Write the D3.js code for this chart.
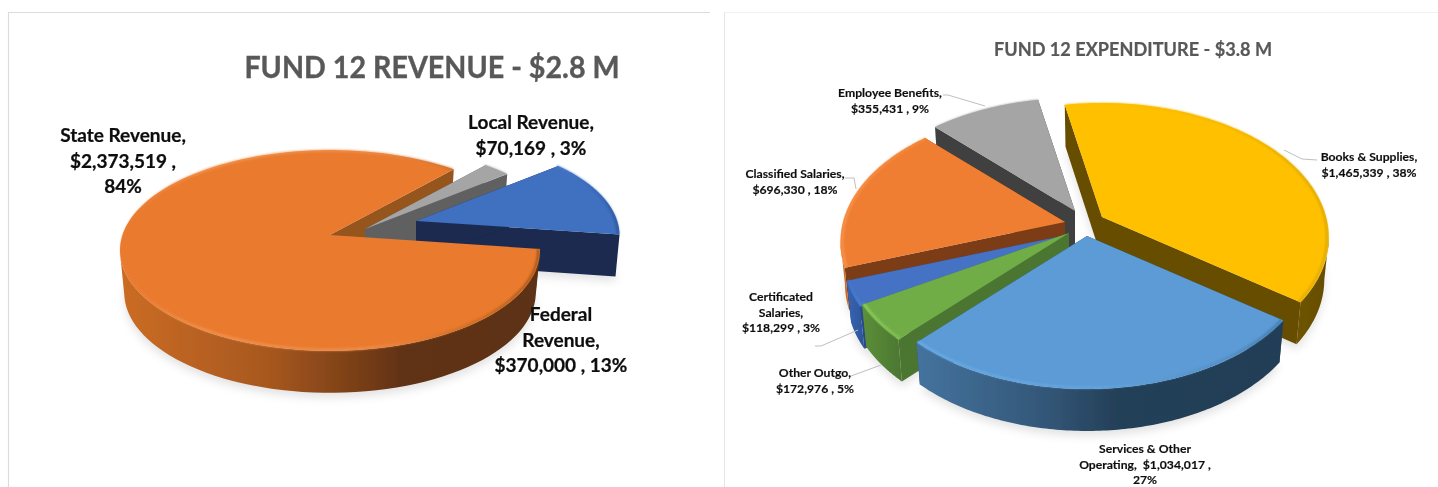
<!DOCTYPE html>
<html>
<head>
<meta charset="utf-8">
<script src="https://cdn.jsdelivr.net/npm/d3@7"></script>
<style>
  html, body { margin: 0; padding: 0; background: #fff; overflow: hidden; }
  text { font-family: Lato, "Open Sans", sans-serif; font-weight: 700; }
</style>
</head>
<body>
<div id="canvas"></div>
<script>
// fund 12 revenue
const revenueNames = ["State Revenue", "Local Revenue", "Federal Revenue"];
const revenueValues = [2373519, 70169, 370000];
const revenueLabels = [
  ["State Revenue,", "$2,373,519 ,", "84%"],
  ["Local Revenue,", "$70,169 , 3%"],
  ["Federal", "Revenue,", "$370,000 , 13%"]
];

// fund 12 expenditure
const expenseNames = ["Books & Supplies", "Services & Other Operating", "Other Outgo",
  "Certificated Salaries", "Classified Salaries", "Employee Benefits"];
const expenseValues = [1465339, 1034017, 172976, 118299, 696330, 355431];
const expenseLabels = [
  ["Books & Supplies,", "$1,465,339 , 38%"],
  ["Services & Other", "Operating,  $1,034,017 ,", "27%"],
  ["Other Outgo,", "$172,976 , 5%"],
  ["Certificated", "Salaries,", "$118,299 , 3%"],
  ["Classified Salaries,", "$696,330 , 18%"],
  ["Employee Benefits,", "$355,431 , 9%"]
];

const width = 1438, height = 487;
const rad = d => d * Math.PI / 180;

const svg = d3.select("#canvas").append("svg")
  .attr("width", width).attr("height", height)
  .style("display", "block");
const defs = svg.append("defs");

defs.append("filter").attr("id", "soft").attr("x", "-5%").attr("y", "-5%").attr("width", "110%").attr("height", "110%")
  .append("feGaussianBlur").attr("stdDeviation", 0.45);
defs.append("filter").attr("id", "rimBlur").attr("x", "-10%").attr("y", "-10%").attr("width", "120%").attr("height", "120%")
  .append("feGaussianBlur").attr("stdDeviation", 1);
defs.append("filter").attr("id", "shadowBlur").attr("x", "-10%").attr("y", "-10%").attr("width", "120%").attr("height", "120%")
  .append("feGaussianBlur").attr("stdDeviation", 4);
defs.append("filter").attr("id", "textSoft")
  .append("feGaussianBlur").attr("stdDeviation", 0.3);

let gradId = 0;
function gradient(stops) {
  const id = "grad" + (gradId++);
  const g = defs.append("linearGradient").attr("id", id);
  stops.forEach(s => g.append("stop").attr("offset", s[0]).attr("stop-color", s[1]));
  return `url(#${id})`;
}

// frames round the two pasted charts
svg.append("path").attr("d", "M8.5,487V12.5H710").attr("fill", "none").attr("stroke", "#dcdcdc").attr("stroke-width", 1.2);
svg.append("path").attr("d", "M724.5,487V12.5H1438").attr("fill", "none").attr("stroke", "#f1f1f1").attr("stroke-width", 1);
svg.append("line").attr("x1", 724.5).attr("x2", 724.5).attr("y1", 12).attr("y2", 487).attr("stroke", "#e6e6e6");

// a tilted pie: circle coordinates go through a projective map so the apex sits above the ellipse middle
function makeProjector(p) {
  return (slice, th, r, low) => {
    const u = r * Math.sin(th) * slice.scale, v = -r * Math.cos(th) * slice.scale;
    const den = 1 - p.persp * v;
    const k = low ? p.lowScale : 1;
    return [
      p.cx + slice.dx + k * p.rx * u / den,
      p.cy + slice.dy + p.ry * v / den + (low ? p.depth : 0)
    ];
  };
}

const line = d3.line();

function drawPie(p) {
  const project = makeProjector(p);
  const arcs = d3.pie().sort(null)
    .startAngle(rad(p.start)).endAngle(rad(p.start + 360))(p.values);

  const slices = arcs.map((a, i) => ({
    a0: a.startAngle, a1: a.endAngle,
    dx: p.offsets[i][0], dy: p.offsets[i][1], scale: p.scales[i], style: p.styles[i]
  }));

  const angles = s => d3.range(0, 121).map(j => s.a0 + (s.a1 - s.a0) * j / 120);
  const ring = (s, low, r = 1) => angles(s).map(th => project(s, th, r, low));
  const apex = (s, low) => project(s, 0, 0, low);
  // only the part of the rim that faces the viewer has a wall to show
  const frontAngles = s => angles(s).filter(th => -Math.cos(th) > p.persp);

  const shadow = svg.append("g").attr("filter", "url(#shadowBlur)");
  slices.forEach(s => {
    const pts = [apex(s, true)].concat(ring(s, true)).map(d => [d[0], d[1] + 5]);
    shadow.append("path").attr("d", line(pts) + "Z").attr("fill", "#000").attr("opacity", 0.11);
  });

  const g = svg.append("g").attr("filter", "url(#soft)");

  function drawCuts(s) {
    [s.a1, s.a0].forEach(th => {
      const pts = [apex(s, false), project(s, th, 1, false), project(s, th, 1, true), apex(s, true)];
      g.append("path").attr("d", line(pts) + "Z").attr("fill", s.style.cut);
    });
  }

  function drawBody(s) {
    const front = frontAngles(s);
    if (front.length > 1) {
      const top = front.map(th => project(s, th, 1, false));
      const bottom = front.map(th => project(s, th, 1, true)).reverse();
      g.append("path").attr("d", line(top.concat(bottom)) + "Z")
        .attr("fill", gradient(s.style.wall));
    }
    g.append("path").attr("d", line([apex(s, false)].concat(ring(s, false))) + "Z")
      .attr("fill", s.style.top);
    g.append("path").attr("d", line(ring(s, false, 0.992)))
      .attr("fill", "none").attr("stroke", gradient(s.style.rim))
      .attr("stroke-width", 1.8).attr("filter", "url(#rimBlur)");
  }

  // the biggest revenue slice has its cut face behind the others and its body before them
  p.paint.forEach(step => {
    const s = slices[step.i];
    if (step.part !== "body") drawCuts(s);
    if (step.part !== "cuts") drawBody(s);
  });
}

function drawLabels(rows, size, color, squeeze = 1) {
  const t = svg.append("g").attr("filter", "url(#textSoft)");
  rows.forEach(r => {
    r.lines.forEach((l, i) => {
      const el = t.append("text").attr("x", r.x).attr("y", r.y + i * r.step)
        .attr("text-anchor", "middle").attr("font-size", size).attr("fill", color)
        .attr("stroke", color).attr("stroke-width", size * 0.012)
        .style("white-space", "pre").text(l);
      if (squeeze !== 1) {
        el.attr("lengthAdjust", "spacingAndGlyphs")
          .attr("textLength", el.node().getComputedTextLength() * squeeze);
      }
    });
  });
}

drawPie({
  values: revenueValues, start: 98,
  cx: 330, cy: 235, rx: 207.5, ry: 98, persp: 0.154, depth: 42, lowScale: 0.98,
  offsets: [[0, 0], [35, -6], [86, -14]],
  scales: [1, 0.97, 0.97],
  styles: [
    { top: "#E97A2F", cut: "#96541E",
      wall: [[0, "#CB6C23"], [0.35, "#A8581F"], [0.68, "#603112"], [1, "#5C3012"]],
      rim: [[0, "#E97A2F"], [0.2, "#F49A58"], [0.6, "#F29350"], [0.85, "#C06520"], [1, "#8A4A18"]] },
    { top: "#A5A5A5", cut: "#616161",
      wall: [[0, "#636363"], [1, "#636363"]],
      rim: [[0, "#A5A5A5"], [1, "#A5A5A5"]] },
    { top: "#3F6FC0", cut: "#1A2B4F",
      wall: [[0, "#1A2B4F"], [1, "#1C2D53"]],
      rim: [[0, "#4A7CCF"], [0.7, "#3563AE"], [1, "#2B4F8F"]] }
  ],
  paint: [{ i: 0, part: "cuts" }, { i: 1 }, { i: 2 }, { i: 0, part: "body" }]
});

drawPie({
  values: expenseValues, start: -11,
  cx: 1072, cy: 224, rx: 222, ry: 130, persp: 0.15, depth: 42, lowScale: 0.98,
  offsets: [[30, -7], [15, 12], [-3, 9], [-5, 11], [-7, -2], [3, -13]],
  scales: [1.01, 1, 1, 1, 1, 1],
  styles: [
    { top: "#FFC000", cut: "#664D00",
      wall: [[0, "#6E5400"], [1, "#664D00"]],
      rim: [[0, "#FFC000"], [0.6, "#F2B600"], [1, "#D0A20C"]] },
    { top: "#5B9BD5", cut: "#2E4F6E",
      wall: [[0, "#44739E"], [0.35, "#335778"], [0.55, "#243F58"], [1, "#233E56"]],
      rim: [[0, "#6FB0EA"], [0.5, "#66A7E0"], [0.85, "#5288BC"], [1, "#3F6F9A"]] },
    { top: "#70AD47", cut: "#4B7630",
      wall: [[0, "#5C8F3A"], [1, "#4B7630"]],
      rim: [[0, "#97DB65"], [1, "#85C856"]] },
    { top: "#4472C4", cut: "#2A4A8A",
      wall: [[0, "#3765B2"], [1, "#2D5598"]],
      rim: [[0, "#4472C4"], [1, "#4F82D6"]] },
    { top: "#F07E31", cut: "#7B3E18",
      wall: [[0, "#D06C26"], [1, "#C96826"]],
      rim: [[0, "#F79A58"], [1, "#F38A40"]] },
    { top: "#A5A5A5", cut: "#404040",
      wall: [[0, "#6B6B6B"], [1, "#6B6B6B"]],
      rim: [[0, "#A5A5A5"], [1, "#A5A5A5"]] }
  ],
  paint: [{ i: 0 }, { i: 5 }, { i: 4 }, { i: 3 }, { i: 2 }, { i: 1 }]
});

// leader lines of the expenditure chart
const leaders = [
  [[943, 95], [948, 95], [985, 106]],
  [[1284, 150], [1302, 159], [1317, 160]],
  [[845, 178], [854, 178], [856, 189]],
  [[815, 346], [821, 346], [858, 330]],
  [[851, 376], [881, 365]]
];
leaders.forEach(d => {
  svg.append("path").attr("d", line(d)).attr("fill", "none")
    .attr("stroke", "#bfbfbf").attr("stroke-width", 1);
});

// titles
drawLabels([{ x: 432, y: 78, step: 0, lines: ["FUND 12 REVENUE - $2.8 M"] }], 31, "#595959", 0.925);
drawLabels([{ x: 1133, y: 56, step: 0, lines: ["FUND 12 EXPENDITURE - $3.8 M"] }], 18.5, "#595959", 0.98);

drawLabels([
  { x: 123, y: 142, step: 25.5, lines: revenueLabels[0] },
  { x: 531, y: 129, step: 25.5, lines: revenueLabels[1] },
  { x: 561, y: 321, step: 25.5, lines: revenueLabels[2] }
], 19, "#0d0d0d");

drawLabels([
  { x: 1369, y: 161, step: 15.5, lines: expenseLabels[0] },
  { x: 1145, y: 453, step: 15.5, lines: expenseLabels[1] },
  { x: 815, y: 377, step: 15.5, lines: expenseLabels[2] },
  { x: 781, y: 301, step: 15.5, lines: expenseLabels[3] },
  { x: 795, y: 178, step: 15.5, lines: expenseLabels[4] },
  { x: 890, y: 97, step: 15.5, lines: expenseLabels[5] }
], 12.2, "#0d0d0d");
</script>
</body>
</html>
